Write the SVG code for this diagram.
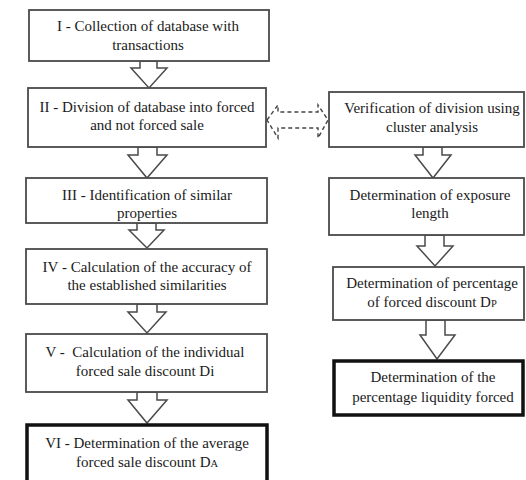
<svg xmlns="http://www.w3.org/2000/svg" width="526" height="480" viewBox="0 0 526 480">
<style>
.box{fill:#fff;stroke:#4a4a4a;stroke-width:1.8}
.thick{fill:#fff;stroke:#111;stroke-width:3.5}
.arr{fill:#fff;stroke:#4a4a4a;stroke-width:1.5;stroke-linejoin:miter}
.dash{fill:none;stroke:#444;stroke-width:1.4;stroke-dasharray:4 3}
text{font-size:15px;fill:#1a1a1a;text-anchor:middle}
.sub{font-size:10.5px}
</style>
<rect width="526" height="480" fill="#fff"/>
<g id="connectors">
<polygon class="arr" points="140,61 157,61 157,68 167,68 149,88 131,68 140,68"/>
<polygon class="arr" points="138,147 157,147 157,155 167,155 147,178 128,155 138,155"/>
<polygon class="arr" points="137,223 156,223 156,230 164,230 147,248 129,230 137,230"/>
<polygon class="arr" points="137,304 157,304 157,312 166,312 147,333 128,312 137,312"/>
<polygon class="arr" points="137,392 157,392 157,400 167,400 147,423 128,400 137,400"/>
<polygon class="arr" points="423,147 442,147 442,155 451,155 433,178 415,155 423,155"/>
<polygon class="arr" points="425,235 444,235 444,246 453,246 435,266 417,246 425,246"/>
<polygon class="arr" points="426,320 445,320 445,335 455,335 437,359 420,335 426,335"/>
<polygon class="dash" points="267,120 278,105 278,112 318,112 318,105 328,120 318,138 318,128 278,128 278,138"/>
</g>
<g font-family="'Liberation Serif', 'DejaVu Serif', serif">
<g id="n1"><rect class="box" x="29" y="10" width="240" height="51"/>
<text x="148" y="31">I - Collection of database with</text><text x="148" y="50">transactions</text></g>
<g id="n2"><rect class="box" x="28" y="88" width="238" height="59"/>
<text x="147" y="112">II - Division of database into forced</text><text x="147" y="130">and not forced sale</text></g>
<g id="n3"><rect class="box" x="26" y="178" width="241" height="45"/>
<text x="147" y="200">III - Identification of similar</text><text x="147" y="218">properties</text></g>
<g id="n4"><rect class="box" x="26" y="249" width="241" height="55"/>
<text x="147" y="272">IV - Calculation of the accuracy of</text><text x="147" y="290">the established similarities</text></g>
<g id="n5"><rect class="box" x="26" y="334" width="241" height="58"/>
<text x="145" y="357" xml:space="preserve">V -  Calculation of the individual</text><text x="145" y="376">forced sale discount Di</text></g>
<g id="n6"><rect class="thick" x="27" y="425" width="240" height="60"/>
<text x="147" y="448">VI - Determination of the average</text><text x="147" y="467">forced sale discount D<tspan class="sub">A</tspan></text></g>
<g id="r1"><rect class="box" x="329" y="92" width="195" height="55"/>
<text x="432" y="113">Verification of division using</text><text x="432" y="132">cluster analysis</text></g>
<g id="r2"><rect class="box" x="329" y="178" width="195" height="57"/>
<text x="430" y="200">Determination of exposure</text><text x="430" y="218">length</text></g>
<g id="r3"><rect class="box" x="333" y="267" width="191" height="53"/>
<text x="432" y="288">Determination of percentage</text><text x="432" y="307">of forced discount D<tspan class="sub">P</tspan></text></g>
<g id="r4"><rect class="thick" x="334" y="361" width="189" height="54"/>
<text x="433" y="382">Determination of the</text><text x="433" y="402">percentage liquidity forced</text></g>
</g>
</svg>
